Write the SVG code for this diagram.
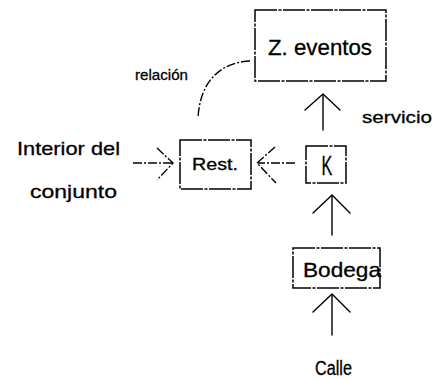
<svg xmlns="http://www.w3.org/2000/svg" width="437" height="380" viewBox="0 0 437 380">
<style>
.box{fill:none;stroke:#000;stroke-width:1.5;stroke-dasharray:22 1.5 3 1.5}
.ln{fill:none;stroke:#000;stroke-width:1.4;stroke-linecap:round;stroke-linejoin:round}
.dl{fill:none;stroke:#000;stroke-width:1.4;stroke-dasharray:9 2 2 2}
.t{font-family:"Liberation Sans",Arial,sans-serif;fill:#000;stroke:#000;stroke-width:0.3}
</style>
<rect width="437" height="380" fill="#fff"/>
<g id="connectors">
<path class="dl" d="M250,61 C222,62 200,80 198,118"/>
<line class="ln" x1="323" y1="130" x2="323" y2="95"/>
<polyline class="ln" points="305,110 323,94 340,110"/>
<line class="dl" x1="133" y1="163" x2="172" y2="163"/>
<polyline class="dl" points="157,148 173,163 157,180"/>
<line class="dl" x1="295" y1="163" x2="258" y2="163"/>
<polyline class="dl" points="275,147 257,163 276,183"/>
<line class="ln" x1="332" y1="235" x2="332" y2="196"/>
<polyline class="ln" points="313,213 332,195 350,213"/>
<line class="ln" x1="332" y1="335" x2="332" y2="295"/>
<polyline class="ln" points="313,312 332,294 350,312"/>
</g>
<g id="label-relacion"><text class="t" x="135" y="80" font-size="15" textLength="53" lengthAdjust="spacingAndGlyphs">relación</text></g>
<g id="label-servicio"><text class="t" x="362" y="123" font-size="17" textLength="70" lengthAdjust="spacingAndGlyphs">servicio</text></g>
<g id="node-interior">
<text class="t" x="17" y="155" font-size="19" textLength="103" lengthAdjust="spacingAndGlyphs">Interior del</text>
<text class="t" x="30" y="198" font-size="19" textLength="87" lengthAdjust="spacingAndGlyphs">conjunto</text>
</g>
<g id="node-zeventos">
<rect class="box" x="255" y="10" width="131" height="71"/>
<text class="t" x="268" y="55" font-size="22" textLength="104" lengthAdjust="spacingAndGlyphs">Z. eventos</text>
</g>
<g id="node-rest">
<rect class="box" x="180" y="140" width="71" height="49"/>
<text class="t" x="192" y="170" font-size="16" textLength="46" lengthAdjust="spacingAndGlyphs">Rest.</text>
</g>
<g id="node-k">
<rect class="box" x="306" y="146" width="40" height="37"/>
<text class="t" transform="translate(327,175) scale(0.6,1)" x="0" y="0" font-size="27" text-anchor="middle">K</text>
</g>
<g id="node-bodega">
<rect class="box" x="293" y="248" width="87" height="40"/>
<text class="t" x="303" y="277" font-size="21" textLength="78" lengthAdjust="spacingAndGlyphs">Bodega</text>
</g>
<g id="node-calle"><text class="t" x="315" y="375" font-size="20" textLength="37" lengthAdjust="spacingAndGlyphs">Calle</text></g>
</svg>
